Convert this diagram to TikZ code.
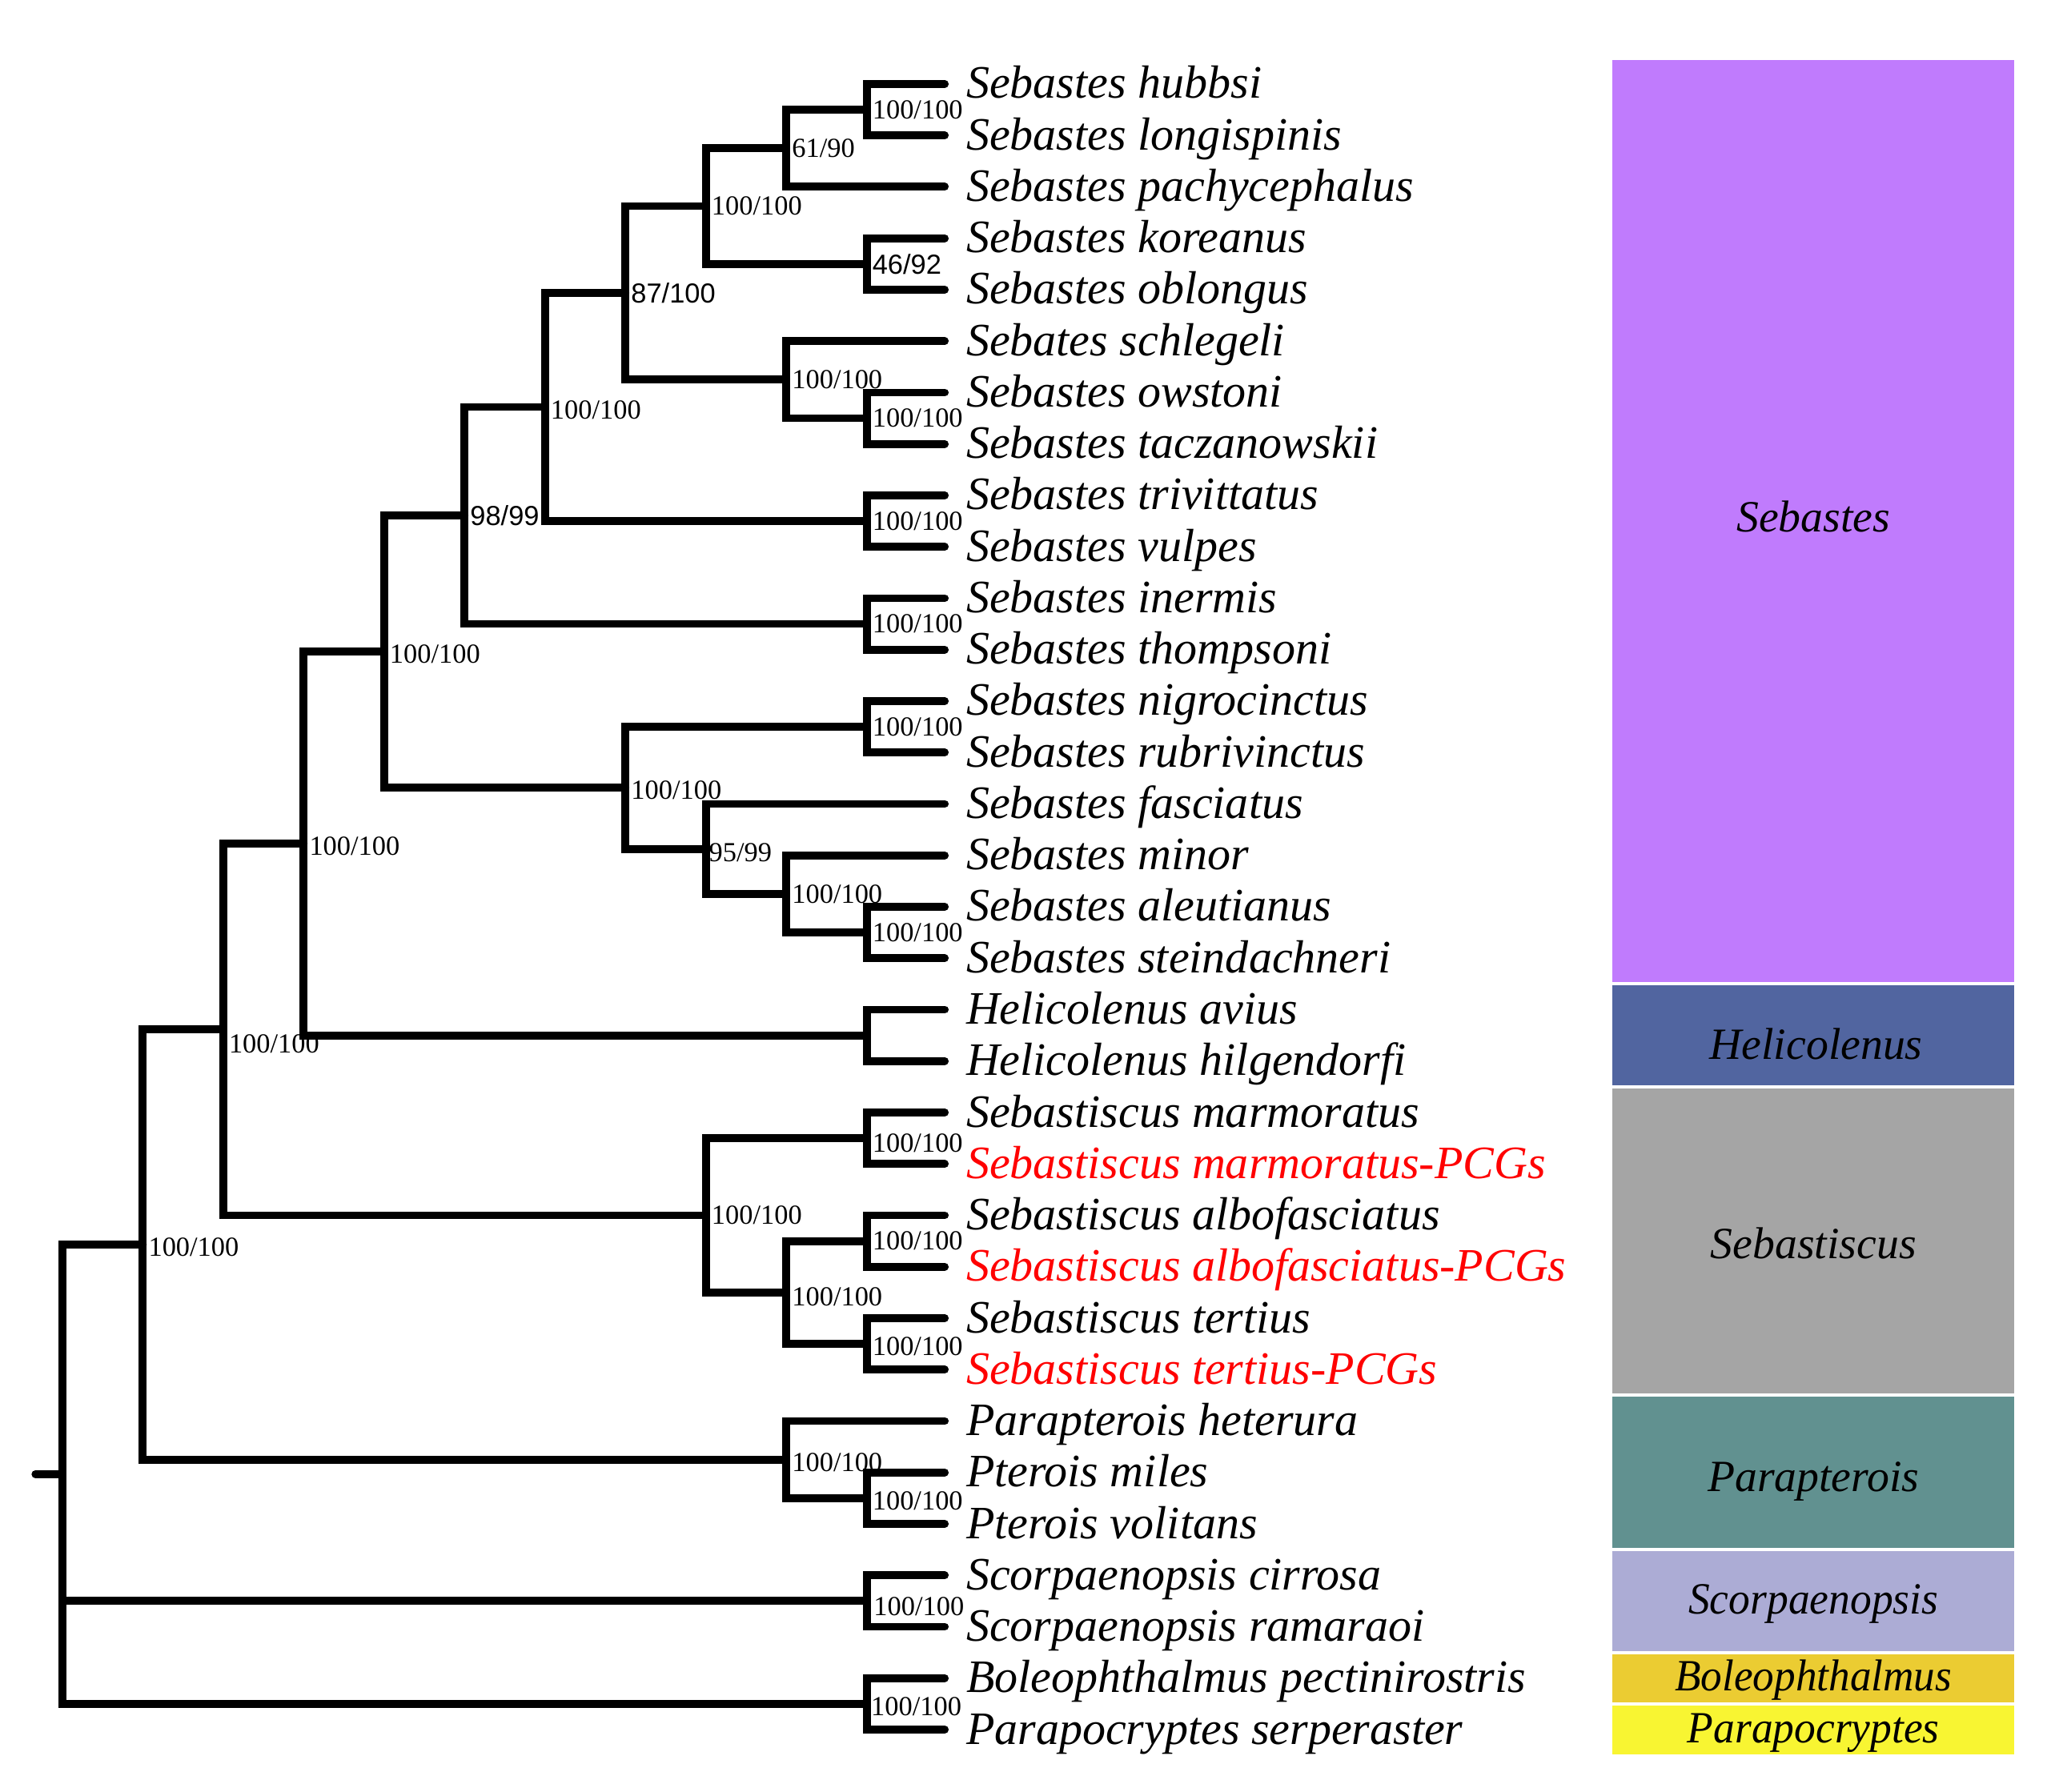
\documentclass[tikz,border=0pt]{standalone}
\usepackage{fontspec}
\setmainfont{Liberation Serif}
\newfontfamily\sansf{Liberation Sans}
\definecolor{cseb}{RGB}{192,123,253}
\definecolor{chel}{RGB}{81,101,160}
\definecolor{cstc}{RGB}{165,165,165}
\definecolor{cpar}{RGB}{97,145,144}
\definecolor{csco}{RGB}{172,172,213}
\definecolor{cbol}{RGB}{235,204,50}
\definecolor{cppc}{RGB}{248,245,50}
\begin{document}
\begin{tikzpicture}[x=0.5pt,y=-0.5pt,
  br/.style={line width=3pt, line cap=round, line join=miter},
  leaf/.style={anchor=base west, inner sep=0pt, font=\fontsize{17.7pt}{20pt}\selectfont\itshape},
  sup/.style={anchor=west, inner sep=0pt, font=\fontsize{10.5pt}{12pt}\selectfont},
  supsans/.style={anchor=west, inner sep=0pt, font=\fontsize{10.5pt}{12pt}\sansf},
  cladelab/.style={anchor=base, inner sep=0pt, font=\fontsize{17pt}{20pt}\selectfont\itshape}]
\useasboundingbox (0,0) rectangle (1560,1365.4);

% clade boxes (edges on row boundaries, small white gaps)
\fill[cseb] (1229,45.6)   rectangle (1535,748.8);
\fill[chel] (1229,751.2)  rectangle (1535,827.2);
\fill[cstc] (1229,829.6)  rectangle (1535,1062.4);
\fill[cpar] (1229,1064.8) rectangle (1535,1180.0);
\fill[csco] (1229,1182.4) rectangle (1535,1258.4);
\fill[cbol] (1229,1260.8) rectangle (1535,1297.6);
\fill[cppc] (1229,1300.0) rectangle (1535,1337.4);
\node[cladelab] (kSeb) at (1382,405.4) {Sebastes};
\node[cladelab] (kHel) at (1384,807.2) {Helicolenus};
\node[cladelab] (kStc) at (1382,959.5) {Sebastiscus};
\node[cladelab] (kPar) at (1382,1136.8) {Parapterois};
\node[cladelab, xscale=0.96] (kSco) at (1382,1230.2) {Scorpaenopsis};
\node[cladelab, xscale=0.955] (kBol) at (1382,1288.9) {Boleophthalmus};
\node[cladelab, xscale=0.96] (kPpc) at (1382,1328.4) {Parapocryptes};

% leaves
\foreach \i/\nm/\col in {
 0/Sebastes hubbsi/black,
 1/Sebastes longispinis/black,
 2/Sebastes pachycephalus/black,
 3/Sebastes koreanus/black,
 4/Sebastes oblongus/black,
 5/Sebates schlegeli/black,
 6/Sebastes owstoni/black,
 7/Sebastes taczanowskii/black,
 8/Sebastes trivittatus/black,
 9/Sebastes vulpes/black,
 10/Sebastes inermis/black,
 11/Sebastes thompsoni/black,
 12/Sebastes nigrocinctus/black,
 13/Sebastes rubrivinctus/black,
 14/Sebastes fasciatus/black,
 15/Sebastes minor/black,
 16/Sebastes aleutianus/black,
 17/Sebastes steindachneri/black,
 18/Helicolenus avius/black,
 19/Helicolenus hilgendorfi/black,
 20/Sebastiscus marmoratus/black,
 21/Sebastiscus marmoratus-PCGs/red,
 22/Sebastiscus albofasciatus/black,
 23/Sebastiscus albofasciatus-PCGs/red,
 24/Sebastiscus tertius/black,
 25/Sebastiscus tertius-PCGs/red,
 26/Parapterois heterura/black,
 27/Pterois miles/black,
 28/Pterois volitans/black,
 29/Scorpaenopsis cirrosa/black,
 30/Scorpaenopsis ramaraoi/black,
 31/Boleophthalmus pectinirostris/black,
 32/Parapocryptes serperaster/black}{
  \coordinate (t\i) at (720,{64+39.2*\i});
  \node[leaf, text=\col] (n\i) at (736,{75+39.2*\i}) {\nm};
}

% internal nodes (x = level, y = midpoint of children)
\coordinate (A)  at (660.5,83.6);
\coordinate (B)  at (599.2,113.0);
\coordinate (C)  at (660.5,201.2);
\coordinate (D)  at (537.9,157.1);
\coordinate (E)  at (660.5,318.8);
\coordinate (F)  at (599.2,289.4);
\coordinate (G)  at (476.6,223.25);
\coordinate (H)  at (660.5,397.2);
\coordinate (I)  at (415.3,310.2);
\coordinate (J)  at (660.5,475.6);
\coordinate (K)  at (354.0,392.9);
\coordinate (L)  at (660.5,554.0);
\coordinate (M)  at (660.5,710.8);
\coordinate (N)  at (599.2,681.4);
\coordinate (O)  at (537.9,647.1);
\coordinate (P)  at (476.6,600.55);
\coordinate (Q)  at (292.7,496.7);
\coordinate (R)  at (660.5,789.2);
\coordinate (S)  at (231.4,642.95);
\coordinate (T)  at (660.5,867.6);
\coordinate (U)  at (660.5,946.0);
\coordinate (V)  at (660.5,1024.4);
\coordinate (W)  at (599.2,985.2);
\coordinate (X)  at (537.9,926.4);
\coordinate (Y)  at (170.1,784.7);
\coordinate (Z)  at (660.5,1142.0);
\coordinate (AA) at (599.2,1112.6);
\coordinate (AB) at (108.8,948.6);
\coordinate (AC) at (660.5,1220.4);
\coordinate (AD) at (660.5,1298.8);
\coordinate (RT) at (47.5,1123.7);
\coordinate (stub) at (27,1123.7);

% branches
\draw[br] (t0) -| (A) |- (t1);
\draw[br] (A) -| (B) |- (t2);
\draw[br] (t3) -| (C) |- (t4);
\draw[br] (B) -| (D) |- (C);
\draw[br] (t6) -| (E) |- (t7);
\draw[br] (t5) -| (F) |- (E);
\draw[br] (D) -| (G) |- (F);
\draw[br] (t8) -| (H) |- (t9);
\draw[br] (G) -| (I) |- (H);
\draw[br] (t10) -| (J) |- (t11);
\draw[br] (I) -| (K) |- (J);
\draw[br] (t12) -| (L) |- (t13);
\draw[br] (t16) -| (M) |- (t17);
\draw[br] (t15) -| (N) |- (M);
\draw[br] (t14) -| (O) |- (N);
\draw[br] (L) -| (P) |- (O);
\draw[br] (K) -| (Q) |- (P);
\draw[br] (t18) -| (R) |- (t19);
\draw[br] (Q) -| (S) |- (R);
\draw[br] (t20) -| (T) |- (t21);
\draw[br] (t22) -| (U) |- (t23);
\draw[br] (t24) -| (V) |- (t25);
\draw[br] (U) -| (W) |- (V);
\draw[br] (T) -| (X) |- (W);
\draw[br] (S) -| (Y) |- (X);
\draw[br] (t27) -| (Z) |- (t28);
\draw[br] (t26) -| (AA) |- (Z);
\draw[br] (Y) -| (AB) |- (AA);
\draw[br] (t29) -| (AC) |- (t30);
\draw[br] (t31) -| (AD) |- (t32);
\draw[br] (AB) -| (RT) |- (AD);
\draw[br] (RT) |- (AC);
\draw[br] (stub) -- (RT);

% support values
\node[sup] (sA) at ([xshift=2pt]A) {100/100};
\node[sup] (sB) at ([xshift=2pt]B) {61/90};
\node[supsans] (sC) at ([xshift=2pt]C) {46/92};
\node[sup] (sD) at ([xshift=2pt]D) {100/100};
\node[sup] (sE) at ([xshift=2pt]E) {100/100};
\node[sup] (sF) at ([xshift=2pt]F) {100/100};
\node[supsans] (sG) at ([xshift=2pt]G) {87/100};
\node[sup] (sH) at ([xshift=2pt]H) {100/100};
\node[sup] (sI) at ([xshift=2pt,yshift=-1pt]I) {100/100};
\node[sup] (sJ) at ([xshift=2pt]J) {100/100};
\node[supsans] (sK) at ([xshift=2pt]K) {98/99};
\node[sup] (sL) at ([xshift=2pt]L) {100/100};
\node[sup] (sM) at ([xshift=2pt]M) {100/100};
\node[sup] (sN) at ([xshift=2pt]N) {100/100};
\node[sup] (sO) at ([xshift=1pt,yshift=-1.5pt]O) {95/99};
\node[sup] (sP) at ([xshift=2pt,yshift=-1pt]P) {100/100};
\node[sup] (sQ) at ([xshift=2pt,yshift=-1pt]Q) {100/100};
\node[sup] (sS) at ([xshift=2pt,yshift=-1pt]S) {100/100};
\node[sup] (sT) at ([xshift=2pt,yshift=-2pt]T) {100/100};
\node[sup] (sU) at ([xshift=2pt]U) {100/100};
\node[sup] (sV) at ([xshift=2pt,yshift=-1pt]V) {100/100};
\node[sup] (sW) at ([xshift=2pt,yshift=-1.5pt]W) {100/100};
\node[sup] (sX) at ([xshift=2pt]X) {100/100};
\node[sup] (sY) at ([xshift=2pt,yshift=-5.5pt]Y) {100/100};
\node[sup] (sZ) at ([xshift=2pt,yshift=-1pt]Z) {100/100};
\node[sup] (sAA) at ([xshift=2pt,yshift=-1pt]AA) {100/100};
\node[sup] (sAB) at ([xshift=2pt,yshift=-1pt]AB) {100/100};
\node[sup] (sAC) at ([xshift=2.5pt,yshift=-2pt]AC) {100/100};
\node[sup] (sAD) at ([xshift=1.5pt,yshift=-1pt]AD) {100/100};
\end{tikzpicture}
\end{document}
